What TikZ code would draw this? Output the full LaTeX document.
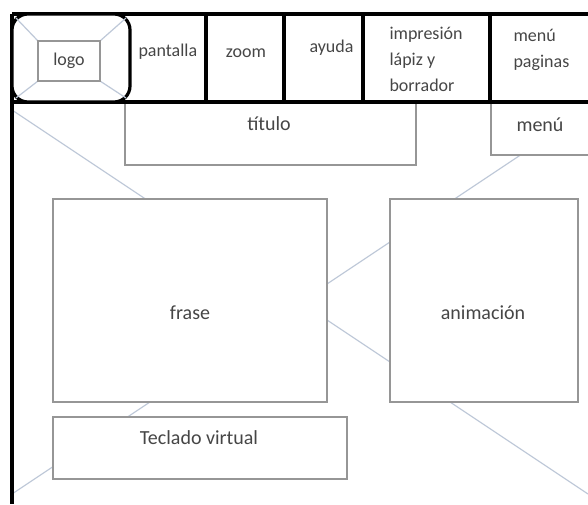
\documentclass[tikz,border=0pt]{standalone}
\usepackage{fontspec}
\setmainfont{Carlito}

\definecolor{boxgray}{RGB}{150,150,150}
\definecolor{crossline}{RGB}{190,200,216}
\definecolor{txtgray}{RGB}{70,70,70}

\tikzset{every picture/.style={line width=0.75pt}}
\tikzset{
  panel/.style={draw=boxgray, line width=1.1pt, fill=white},
  bar/.style={draw=black, line width=2.4pt},
  cross/.style={draw=crossline, line width=0.9pt},
  lbl/.style={inner sep=0.75pt, text=txtgray, font=\fontsize{15}{18}\selectfont},
  hdr/.style={inner sep=0.75pt, text=txtgray, font=\fontsize{13.5}{19.5}\selectfont}
}

\begin{document}
\begin{tikzpicture}[x=0.75pt,y=0.75pt,yscale=-1,xscale=1]
\useasboundingbox (0,0) rectangle (588,504);

% corners of the content area
\coordinate (tl) at (12,110);
\coordinate (tr) at (588,110);
\coordinate (bl) at (12,494);
\coordinate (br) at (588,494);

%Straight Lines: big cross behind the panels
\draw [cross] (tl) -- (br) ;
\draw [cross] (bl) -- (tr) ;

%Shape: Rectangle (titulo)
\draw [panel] (125,102) rectangle (416,165) ;
%Shape: Rectangle (menu)
\draw [panel] (491,102) rectangle (600,155) ;
%Shape: Rectangle (frase)
\draw [panel] (53,199) rectangle (327,402) ;
%Shape: Rectangle (animacion)
\draw [panel] (390,199) rectangle (578,402) ;
%Shape: Rectangle (teclado)
\draw [panel] (53,417) rectangle (347,479) ;

%Straight Lines: header and left border
\draw [bar] (12,14) -- (600,14) ;
\draw [bar] (12,102) -- (600,102) ;
\draw [bar] (12,14) -- (12,504) ;
\foreach \xx in {206,284,363,490}
  \draw [bar] (\xx,14) -- (\xx,102) ;

%Shape: Rounded Rectangle (logo)
\draw [bar, fill=white, rounded corners=12pt] (12,14) rectangle (130,102) ;
\draw [cross] (16,18) -- (38,41) ;
\draw [cross] (126,18) -- (100,41) ;
\draw [cross] (16,98) -- (38,81) ;
\draw [cross] (126,98) -- (100,81) ;
\draw [panel] (38,41) rectangle (100,81) ;

% Text Node
\node [hdr] (logo) at (69,61) {logo};
% Text Node
\node [hdr, anchor=west] (pantalla) at (137,52) {pantalla};
% Text Node
\node [hdr] (zoom) at (246,53) {zoom};
% Text Node
\node [hdr, anchor=east] (ayuda) at (355,48) {ayuda};
% Text Node
\node [hdr, anchor=west, align=left] (impresion) at (388,59) {impresión\\lápiz y\\borrador};
% Text Node
\node [hdr, anchor=west, align=left] (paginas) at (512,50) {menú\\paginas};
% Text Node
\node [lbl] (titulo) at (269,124) {título};
% Text Node
\node [lbl] (menu) at (540,125) {menú};
% Text Node
\node [lbl] (frase) at (190,313) {frase};
% Text Node
\node [lbl] (animacion) at (483,313) {animación};
% Text Node
\node [lbl] (teclado) at (199,438) {Teclado virtual};

\end{tikzpicture}
\end{document}
